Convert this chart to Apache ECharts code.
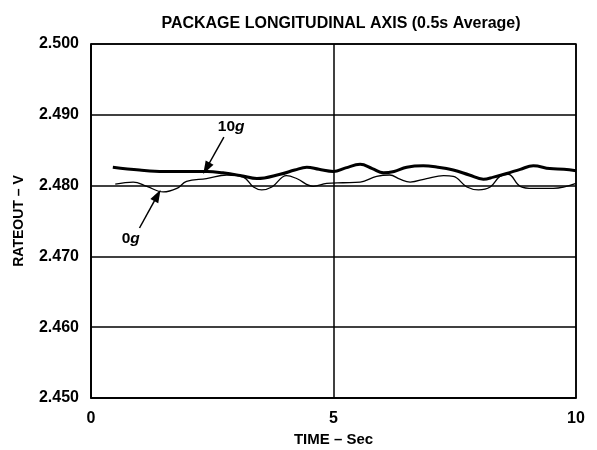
<!DOCTYPE html>
<html>
<head>
<meta charset="utf-8">
<script src="https://cdn.jsdelivr.net/npm/echarts@6/dist/echarts.min.js"></script>
<style>
  html, body { margin: 0; padding: 0; background: #fff; }
  #chart { width: 597px; height: 450px; }
</style>
</head>
<body>
<div id="chart"></div>
<script>
// Rate output over time, package longitudinal axis (0.5 s average)
const time10g = [0.45, 1.0, 1.5, 2.0, 2.4, 2.72, 3.1, 3.42, 3.9, 4.2, 4.45, 4.7, 5.0, 5.25, 5.55, 5.8, 6.03, 6.25, 6.51, 6.85, 7.15, 7.47, 7.8, 8.09, 8.3, 8.57, 8.85, 9.12, 9.46, 9.75, 10.0];
const rate10g = [2.4826, 2.4822, 2.4820, 2.4820, 2.4820, 2.4818, 2.4814, 2.4810, 2.4816, 2.4822, 2.4826, 2.4823, 2.4820, 2.4825, 2.4830, 2.4824, 2.4818, 2.4820, 2.4826, 2.4828, 2.4826, 2.4822, 2.4815, 2.4809, 2.4812, 2.4817, 2.4823, 2.4828, 2.4824, 2.4823, 2.4821];

const time0g = [0.5, 0.87, 1.15, 1.49, 1.77, 1.97, 2.38, 2.8, 3.14, 3.35, 3.52, 3.73, 4.03, 4.24, 4.58, 4.86, 5.2, 5.55, 5.89, 6.16, 6.37, 6.58, 6.92, 7.27, 7.47, 7.75, 7.99, 8.23, 8.43, 8.6, 8.85, 9.12, 9.53, 10.0];
const rate0g = [2.4802, 2.4805, 2.4799, 2.4791, 2.4796, 2.4806, 2.4810, 2.4815, 2.4812, 2.4798, 2.4794, 2.4798, 2.4814, 2.4810, 2.4799, 2.4803, 2.4804, 2.4805, 2.4813, 2.4815, 2.4809, 2.4805, 2.4810, 2.4814, 2.4813, 2.4798, 2.4794, 2.4798, 2.4813, 2.4816, 2.4799, 2.4796, 2.4796, 2.4803];

const yTicks = [2.45, 2.46, 2.47, 2.48, 2.49, 2.50];
const xTicks = [0, 5, 10];

// Callout positions in data units: label anchor, arrow tail, arrow tip
const callout10g = { label: [2.89, 2.48828], from: [2.74, 2.48686], to: [2.38, 2.48245] };
const callout0g  = { label: [0.82, 2.47246], from: [1.0, 2.47401], to: [1.37, 2.47862] };

const FONT = 'Liberation Sans, Arial, sans-serif';
const zip = (xs, ys) => xs.map((x, i) => [x, ys[i]]);

function callout(c, main) {
  return {
    silent: true,
    markLine: {
      silent: true,
      animation: false,
      symbol: ['none', 'triangle'],
      symbolSize: [9, 13],
      lineStyle: { color: '#000', width: 1.5, type: 'solid' },
      label: { show: false },
      data: [[{ coord: c.from }, { coord: c.to }]]
    },
    markPoint: {
      silent: true,
      animation: false,
      symbol: 'circle',
      symbolSize: 0,
      label: {
        show: true,
        position: 'inside',
        formatter: '{a|' + main + '}{b|g}',
        rich: {
          a: { fontFamily: FONT, fontWeight: 'bold', fontSize: 15.5, color: '#000' },
          b: { fontFamily: FONT, fontWeight: 'bold', fontStyle: 'italic', fontSize: 15.5, color: '#000' }
        }
      },
      data: [{ coord: c.label }]
    }
  };
}

const chart = echarts.init(document.getElementById('chart'), null, { renderer: 'canvas' });
chart.setOption({
  animation: false,
  backgroundColor: '#fff',
  title: {
    text: 'PACKAGE LONGITUDINAL AXIS (0.5s Average)',
    left: 336, top: 11, textAlign: 'center',
    textStyle: { fontFamily: FONT, fontWeight: 'bold', fontSize: 16, color: '#000' }
  },
  grid: {
    left: 91, right: 21, top: 44, bottom: 52,
    outerBoundsMode: 'none', containLabel: false,
    show: true, borderColor: '#000', borderWidth: 1.5, backgroundColor: 'transparent'
  },
  xAxis: {
    type: 'value', min: xTicks[0], max: xTicks[xTicks.length - 1], interval: 5,
    name: 'TIME – Sec', nameLocation: 'middle', nameGap: 34,
    nameTextStyle: { fontFamily: FONT, fontWeight: 'bold', fontSize: 15, color: '#000' },
    axisLine: { lineStyle: { color: '#000', width: 1.5 } },
    axisTick: { show: false },
    axisLabel: { margin: 13, fontFamily: FONT, fontWeight: 'bold', fontSize: 16, color: '#000' },
    splitLine: { show: true, lineStyle: { color: '#000', width: 1.5 } }
  },
  yAxis: {
    type: 'value', min: yTicks[0], max: yTicks[yTicks.length - 1], interval: 0.01,
    name: 'RATEOUT – V', nameLocation: 'middle', nameGap: 65, nameRotate: 90,
    nameTextStyle: { fontFamily: FONT, fontWeight: 'bold', fontSize: 14, color: '#000' },
    axisLine: { lineStyle: { color: '#000', width: 1.5 } },
    axisTick: { show: false },
    axisLabel: {
      margin: 12, fontFamily: FONT, fontWeight: 'bold', fontSize: 16, color: '#000',
      formatter: v => v.toFixed(3)
    },
    splitLine: { show: true, lineStyle: { color: '#000', width: 1.5 } }
  },
  series: [
    Object.assign({
      name: '10g', type: 'line', data: zip(time10g, rate10g),
      smooth: 0.4, showSymbol: false, symbol: 'none',
      lineStyle: { color: '#000', width: 3 }
    }, callout(callout10g, '10')),
    Object.assign({
      name: '0g', type: 'line', data: zip(time0g, rate0g),
      smooth: 0.4, showSymbol: false, symbol: 'none',
      lineStyle: { color: '#000', width: 1.3 }
    }, callout(callout0g, '0'))
  ]
});
</script>
</body>
</html>
